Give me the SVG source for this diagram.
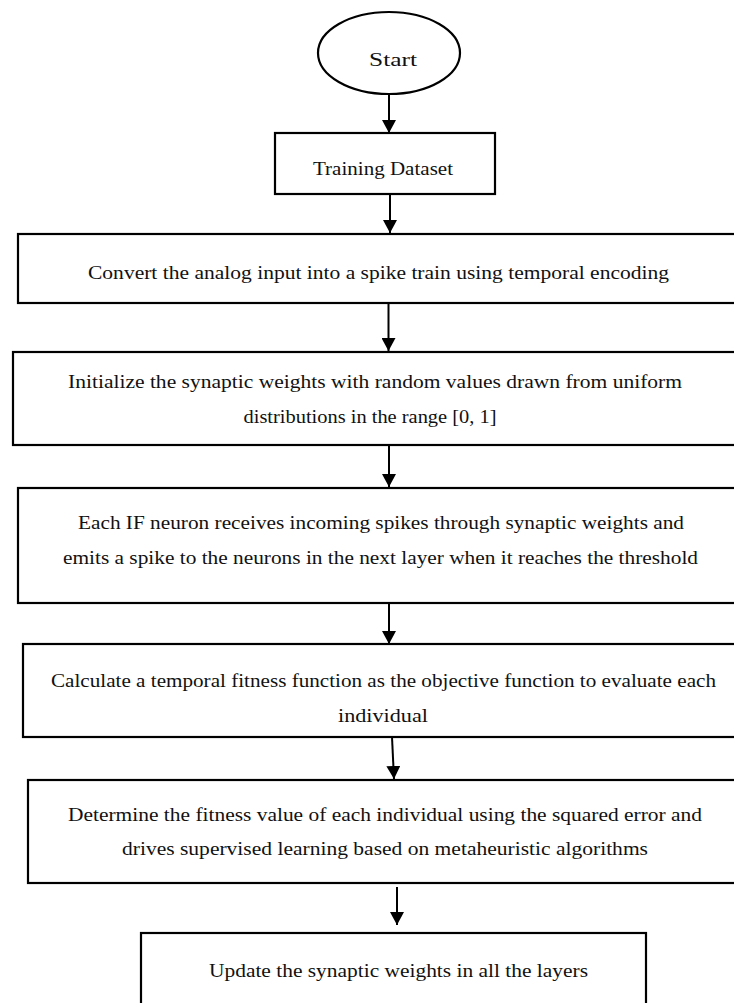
<svg xmlns="http://www.w3.org/2000/svg" width="734" height="1003" viewBox="0 0 734 1003">
<style>
.box{fill:#fff;stroke:#000;stroke-width:2.2}
.t{font-family:"Liberation Serif","Times New Roman",serif;font-size:19px;fill:#111;text-anchor:middle}
.c{stroke:#000;stroke-width:2;fill:none}
</style>
<defs>
<marker id="ah" markerUnits="userSpaceOnUse" markerWidth="14" markerHeight="14" refX="13" refY="7" orient="auto">
<path d="M0,0 L13,7 L0,14 z" fill="#000"/>
</marker>
</defs>
<rect width="734" height="1003" fill="#fff"/>
<g id="connectors">
<line class="c" x1="389" y1="94" x2="389" y2="133" marker-end="url(#ah)"/>
<line class="c" x1="390" y1="194" x2="390" y2="233" marker-end="url(#ah)"/>
<line class="c" x1="388.5" y1="303" x2="388.5" y2="351" marker-end="url(#ah)"/>
<line class="c" x1="389" y1="438" x2="389" y2="487" marker-end="url(#ah)"/>
<line class="c" x1="389" y1="603" x2="389" y2="644" marker-end="url(#ah)"/>
<line class="c" x1="392" y1="737" x2="394" y2="779" marker-end="url(#ah)"/>
<line class="c" x1="397" y1="887" x2="397" y2="925" marker-end="url(#ah)"/>
</g>
<g id="start">
<ellipse class="box" cx="389" cy="53" rx="71" ry="41"/>
<text class="t" x="393" y="66" textLength="48" lengthAdjust="spacingAndGlyphs">Start</text>
</g>
<g id="training">
<rect class="box" x="275" y="133" width="220" height="61"/>
<text class="t" x="383" y="175" textLength="140" lengthAdjust="spacingAndGlyphs">Training Dataset</text>
</g>
<g id="convert">
<rect class="box" x="18" y="234" width="730" height="69"/>
<text class="t" x="378.5" y="279" textLength="581" lengthAdjust="spacingAndGlyphs">Convert the analog input into a spike train using temporal encoding</text>
</g>
<g id="initialize">
<rect class="box" x="13" y="352" width="735" height="93"/>
<text class="t" x="375" y="388" textLength="614" lengthAdjust="spacingAndGlyphs">Initialize the synaptic weights with random values drawn from uniform</text>
<text class="t" x="370" y="423" textLength="253" lengthAdjust="spacingAndGlyphs">distributions in the range [0, 1]</text>
</g>
<g id="neuron">
<rect class="box" x="18" y="488" width="730" height="115"/>
<text class="t" x="381" y="529" textLength="606" lengthAdjust="spacingAndGlyphs">Each IF neuron receives incoming spikes through synaptic weights and</text>
<text class="t" x="380.5" y="564" textLength="635" lengthAdjust="spacingAndGlyphs">emits a spike to the neurons in the next layer when it reaches the threshold</text>
</g>
<g id="fitness">
<rect class="box" x="23" y="644" width="725" height="93"/>
<text class="t" x="383.5" y="687" textLength="665" lengthAdjust="spacingAndGlyphs">Calculate a temporal fitness function as the objective function to evaluate each</text>
<text class="t" x="383" y="722" textLength="90" lengthAdjust="spacingAndGlyphs">individual</text>
</g>
<g id="determine">
<rect class="box" x="28" y="780" width="720" height="103"/>
<text class="t" x="385" y="821" textLength="634" lengthAdjust="spacingAndGlyphs">Determine the fitness value of each individual using the squared error and</text>
<text class="t" x="385" y="855" textLength="526" lengthAdjust="spacingAndGlyphs">drives supervised learning based on metaheuristic algorithms</text>
</g>
<g id="update">
<rect class="box" x="141" y="933" width="505" height="80"/>
<text class="t" x="398.5" y="977" textLength="379" lengthAdjust="spacingAndGlyphs">Update the synaptic weights in all the layers</text>
</g>
</svg>
